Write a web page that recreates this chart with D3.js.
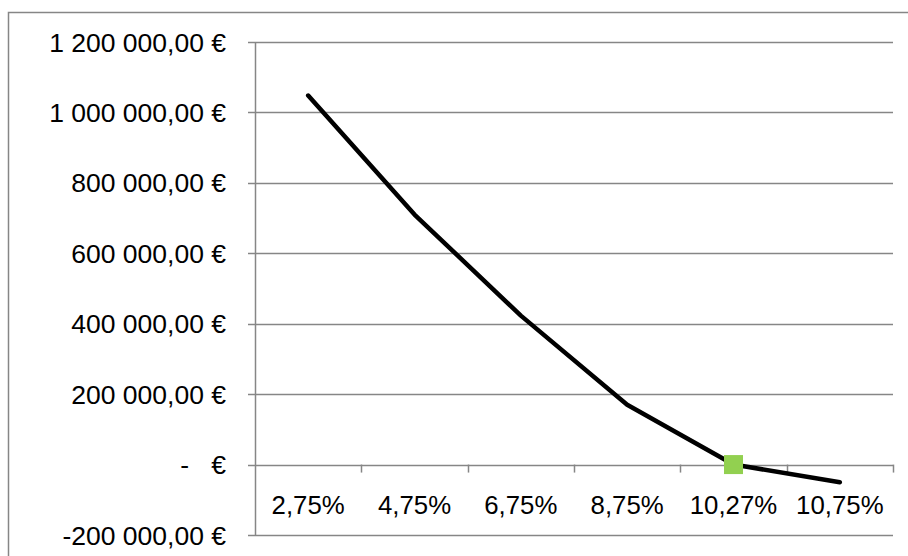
<!DOCTYPE html>
<html>
<head>
<meta charset="utf-8">
<script src="https://cdn.jsdelivr.net/npm/d3@7/dist/d3.min.js"></script>
<style>
  html, body { margin: 0; padding: 0; background: #fff; }
  svg { display: block; }
  text { font-family: "Liberation Sans", Arial, sans-serif; fill: #000; }
</style>
</head>
<body>
<svg id="chart" width="908" height="556"></svg>
<script>
// Rates on the category axis and the value computed for each
const rates = ["2,75%", "4,75%", "6,75%", "8,75%", "10,27%", "10,75%"];
const values = [1048000, 710000, 423000, 170000, 0, -50000];
// Highlighted point (break-even rate)
const markerRate = "10,27%";
const markerValue = 0;
// Value axis ticks
const yTicks = [-200000, 0, 200000, 400000, 600000, 800000, 1000000, 1200000];

const W = 908, H = 556;
const plot = { left: 255, right: 893, top: 42, bottom: 535 };
const grey = "#868686";

const svg = d3.select("#chart");

// chart frame
svg.append("rect")
  .attr("x", 8.5).attr("y", 12.5)
  .attr("width", W + 20).attr("height", H + 20)
  .attr("fill", "none").attr("stroke", grey).attr("stroke-width", 1.5);

const x = d3.scaleBand().domain(rates).range([plot.left, plot.right]).padding(0);
const y = d3.scaleLinear().domain([-200000, 1200000]).range([plot.bottom, plot.top]);

// euro formatting: "1 200 000,00 €", zero as "-   €"
const fmtNum = d3.formatLocale({
  decimal: ",", thousands: "\u00a0", grouping: [3], currency: ["", ""], minus: "-"
}).format(",.2f");
const fmtEuro = v => v === 0 ? "-\u00a0\u00a0\u00a0€" : fmtNum(v) + "\u00a0€";

// horizontal gridlines
svg.append("g").selectAll("line").data(yTicks).join("line")
  .attr("x1", plot.left - 7).attr("x2", plot.right)
  .attr("y1", d => Math.round(y(d)) + 0.5).attr("y2", d => Math.round(y(d)) + 0.5)
  .attr("stroke", grey).attr("stroke-width", 1.5);

// value axis line
svg.append("line")
  .attr("x1", plot.left + 0.5).attr("x2", plot.left + 0.5)
  .attr("y1", plot.top).attr("y2", plot.bottom)
  .attr("stroke", grey).attr("stroke-width", 1.5);

// value axis labels
svg.append("g").selectAll("text").data(yTicks).join("text")
  .attr("x", 226).attr("y", d => y(d) + 9.5)
  .attr("text-anchor", "end")
  .style("font-size", "26.5px")
  .text(fmtEuro);

// category tick marks at band boundaries, hanging below the zero line
const bounds = rates.slice(1).map(r => x(r)).concat([x(rates[rates.length - 1]) + x.bandwidth()]);
svg.append("g").selectAll("line").data(bounds).join("line")
  .attr("x1", d => Math.round(d) + 0.5).attr("x2", d => Math.round(d) + 0.5)
  .attr("y1", y(0)).attr("y2", y(0) + 8)
  .attr("stroke", grey).attr("stroke-width", 1.5);

// category labels
svg.append("g").selectAll("text").data(rates).join("text")
  .attr("x", d => x(d) + x.bandwidth() / 2).attr("y", 514)
  .attr("text-anchor", "middle")
  .style("font-size", "25.8px")
  .text(d => d);

// value line
const line = d3.line()
  .x((d, i) => x(rates[i]) + x.bandwidth() / 2)
  .y(d => y(d));
svg.append("path")
  .datum(values)
  .attr("d", line)
  .attr("fill", "none").attr("stroke", "#000")
  .attr("stroke-width", 4.5).attr("stroke-linecap", "round").attr("stroke-linejoin", "round");

// break-even marker
const ms = 19;
svg.append("rect")
  .attr("x", x(markerRate) + x.bandwidth() / 2 - ms / 2)
  .attr("y", y(markerValue) - ms / 2)
  .attr("width", ms).attr("height", ms)
  .attr("fill", "#92D050");
</script>
</body>
</html>
